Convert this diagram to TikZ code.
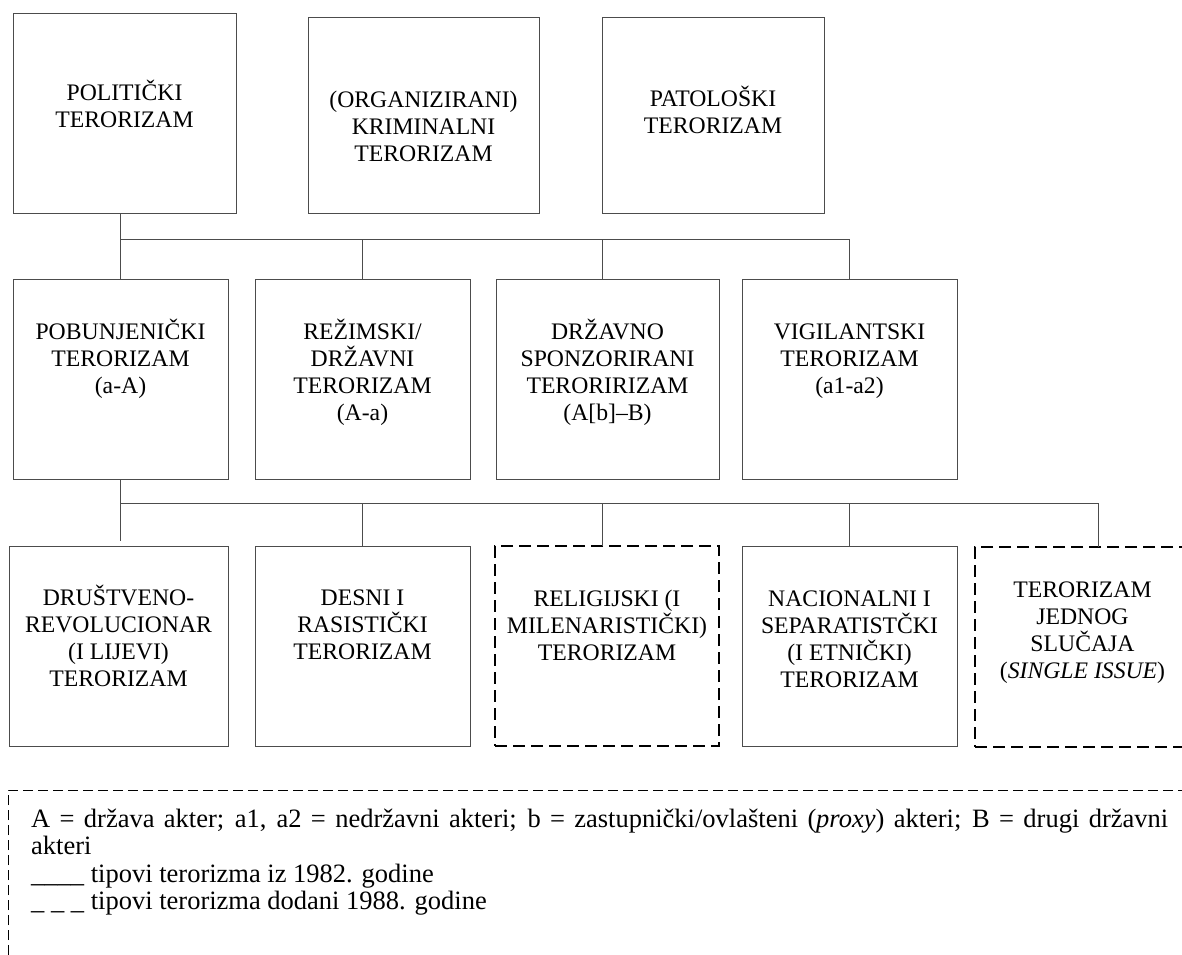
\documentclass[tikz,border=0pt]{standalone}
\usepackage{fontspec}
\setmainfont{Liberation Serif}
\begin{document}
\begin{tikzpicture}[x=1pt,y=-1pt,
  sbox/.style={draw=black!70, line width=1pt, rectangle, inner sep=0pt, outer sep=0pt, minimum height=200pt},
  dbox/.style={draw=black, line width=1.6pt, dash pattern=on 12pt off 6pt, rectangle, inner sep=0pt, outer sep=0pt, minimum height=200pt},
  txt/.style={anchor=north, inner sep=0pt, align=center, font=\fontsize{23.7}{27}\selectfont},
  conn/.style={draw=black!70, line width=1pt},
  legline/.style={draw=black, line width=1pt, dash pattern=on 10pt off 5pt},
  legtxt/.style={anchor=north west, inner sep=0pt, text width=1137pt, align=justify, font=\fontsize{26.5}{27.5}\selectfont}]
\useasboundingbox (0,0) rectangle (1182,954);
\clip (0,0) rectangle (1182,954);
\fill[white] (0,0) rectangle (1182,954);
\def\rs{\rule{0pt}{22pt}}
% Row 1
\node[sbox, minimum width=223pt] (pol) at (124.5,113) {};
\node[sbox, minimum width=231pt, minimum height=196pt] (org) at (423.5,115) {};
\node[sbox, minimum width=222pt, minimum height=196pt] (pat) at (713,115) {};
\node[txt] (polt) at (124.5,78.5) {\rs POLITIČKI\\TERORIZAM};
\node[txt] (orgt) at (423.5,85) {\rs (ORGANIZIRANI)\\KRIMINALNI\\TERORIZAM};
\node[txt] (patt) at (713,84) {\rs PATOLOŠKI\\TERORIZAM};
% Row 2
\node[sbox, minimum width=215pt] (pob) at (120.5,379) {};
\node[sbox, minimum width=215pt] (rez) at (362.5,379) {};
\node[sbox, minimum width=223pt] (drz) at (607.5,379) {};
\node[sbox, minimum width=215pt] (vig) at (849.5,379) {};
\node[txt] (pobt) at (120.5,317) {\rs POBUNJENIČKI\\TERORIZAM\\(a-A)};
\node[txt] (rezt) at (362.5,317) {\rs REŽIMSKI/\\DRŽAVNI\\TERORIZAM\\(A-a)};
\node[txt] (drzt) at (607.5,317) {\rs DRŽAVNO\\SPONZORIRANI\\TERORIRIZAM\\(A[b]–B)};
\node[txt] (vigt) at (849.5,317) {\rs VIGILANTSKI\\TERORIZAM\\(a1-a2)};
% Row 3
\node[sbox, minimum width=219pt] (dru) at (118.5,646) {};
\node[sbox, minimum width=215pt] (des) at (362.5,646) {};
\node[dbox, minimum width=224pt] (rel) at (607,646) {};
\node[sbox, minimum width=215pt] (nac) at (849.5,646) {};
\node[dbox, minimum width=215pt] (jed) at (1082.5,647) {};
\node[txt] (drut) at (118.5,583) {\rs DRUŠTVENO-\\REVOLUCIONAR\\(I LIJEVI)\\TERORIZAM};
\node[txt] (dest) at (362.5,583) {\rs DESNI I\\RASISTIČKI\\TERORIZAM};
\node[txt] (relt) at (607,584) {\rs RELIGIJSKI (I\\MILENARISTIČKI)\\TERORIZAM};
\node[txt] (nact) at (849.5,584) {\rs NACIONALNI I\\SEPARATISTČKI\\(I ETNIČKI)\\TERORIZAM};
\node[txt] (jedt) at (1082.5,575) {\rs TERORIZAM\\JEDNOG\\SLUČAJA\\(\textit{SINGLE ISSUE})};
% Connectors
\coordinate (bus1) at (0,239);
\coordinate (bus2) at (0,503);
\coordinate (drop) at (120.5,541);
\coordinate (drztap) at ([xshift=-5.5pt]drz.north);
\coordinate (reltap) at ([xshift=-5pt]rel.north);
\coordinate (jedtap) at ([xshift=15.5pt]jed.north);
\draw[conn] (pob.north) -- (pob.north |- pol.south);
\draw[conn] (pob.north |- bus1) -- (vig.north |- bus1);
\draw[conn] (rez.north) -- (rez.north |- bus1);
\draw[conn] (drztap) -- (drztap |- bus1);
\draw[conn] (vig.north) -- (vig.north |- bus1);
\draw[conn] (pob.south) -- (drop);
\draw[conn] (pob.south |- bus2) -- (jedtap |- bus2);
\draw[conn] (des.north) -- (des.north |- bus2);
\draw[conn] (reltap) -- (reltap |- bus2);
\draw[conn] (nac.north) -- (nac.north |- bus2);
\draw[conn] (jedtap) -- (jedtap |- bus2);
% Legend
\draw[legline] (8,1000) -- (8,790) -- (1200,790);
\node[legtxt] (legt) at (31,807) {\rule{0pt}{20pt}A = država akter; a1, a2 = nedržavni akteri; b = zastupnički/ovlašteni (\textit{proxy}) akteri; B = drugi državni\linebreak akteri\\
\_\_\_\_ tipovi terorizma iz 1982. godine\\
\_ \_ \_ tipovi terorizma dodani 1988. godine};
\end{tikzpicture}
\end{document}
